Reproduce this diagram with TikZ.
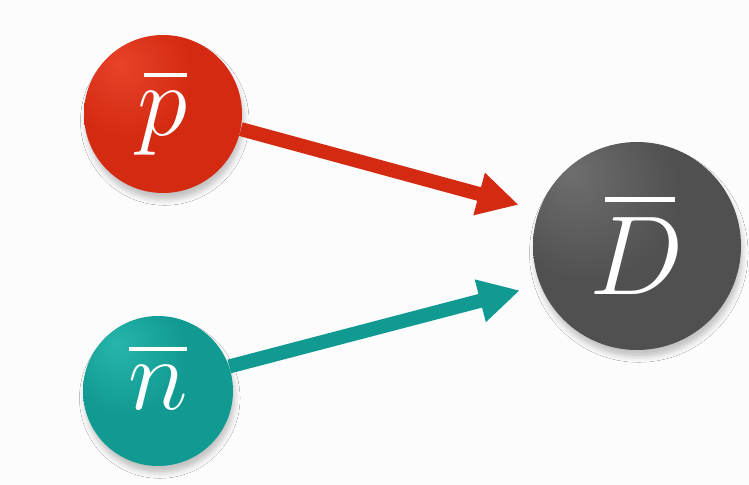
\RequirePackage{fix-cm}
\documentclass[tikz,border=0pt]{standalone}
\usetikzlibrary{arrows.meta,shadows.blur}

\definecolor{bgwhite}{HTML}{FCFCFC}
\definecolor{protonred}{HTML}{D42A12}
\definecolor{protonhi}{HTML}{E9432A}
\definecolor{protondark}{HTML}{B2220E}
\definecolor{neutronteal}{HTML}{119A92}
\definecolor{neutronhi}{HTML}{27B5AB}
\definecolor{neutrondark}{HTML}{0D7C75}
\definecolor{deutgray}{HTML}{505050}
\definecolor{deuthi}{HTML}{6E6E6E}
\definecolor{deutdark}{HTML}{404040}

% soft spheres, light from the upper left
\pgfdeclareradialshading{protonball}{\pgfpoint{-14bp}{16bp}}{color(0bp)=(protonhi); color(20bp)=(protonred); color(46bp)=(protonred); color(64bp)=(protondark); color(80bp)=(protondark)}
\pgfdeclareradialshading{neutronball}{\pgfpoint{-14bp}{16bp}}{color(0bp)=(neutronhi); color(20bp)=(neutronteal); color(46bp)=(neutronteal); color(64bp)=(neutrondark); color(80bp)=(neutrondark)}
\pgfdeclareradialshading{deutball}{\pgfpoint{-16bp}{18bp}}{color(0bp)=(deuthi); color(22bp)=(deutgray); color(46bp)=(deutgray); color(64bp)=(deutdark); color(80bp)=(deutdark)}

% bar over a letter: #1 = shift from the left, #2 = width (fractions of the letter)
\newcommand{\antibar}[3]{\setbox0\hbox{$#3$}\vbox{\offinterlineskip\hbox{\hskip#1\wd0\rule{#2\wd0}{0.045em}}\kern0.14em\box0}}

\tikzset{
  particle/.style={circle, inner sep=0pt, text=white, shade,
    font=\fontsize{58}{60}\selectfont,
    blur shadow={shadow xshift=1pt, shadow yshift=-4pt, shadow blur radius=3pt, shadow opacity=22}},
  beam/.style={line width=8pt, -{Triangle[length=0.82cm, width=0.82cm]}, shorten >=0.42cm}
}

\begin{document}
\begin{tikzpicture}
	\fill[bgwhite] (0,0) rectangle (14.98,9.7);
	\useasboundingbox (0,0) rectangle (14.98,9.7);
	% the two antinucleons
	\node[particle, shading=protonball, minimum size=3.16cm] (pbar) at (3.26,7.42) {\antibar{0.12}{0.86}{p}};
	\node[particle, shading=neutronball, minimum size=3.0cm, text depth=0.52cm] (nbar) at (3.16,1.88) {\antibar{0.02}{0.96}{n}};
	% the antideuteron
	\node[particle, shading=deutball, minimum size=4.16cm, font=\fontsize{64}{66}\selectfont] (dbar) at (12.74,4.78) {\antibar{0.16}{0.74}{D}};
	\draw[beam, protonred] (pbar.-11) -- (dbar.160);
	\draw[beam, neutronteal] (nbar.19) -- (dbar.202);
\end{tikzpicture}
\end{document}
